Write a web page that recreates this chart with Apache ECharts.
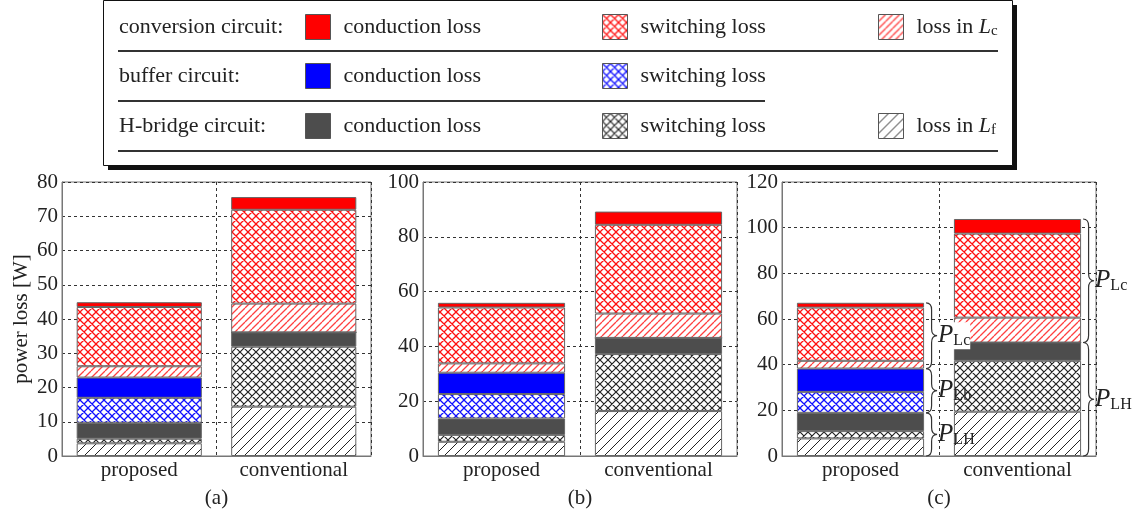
<!DOCTYPE html>
<html>
<head>
<meta charset="utf-8">
<script src="https://cdn.jsdelivr.net/npm/echarts@6/dist/echarts.min.js"></script>
<style>
  html, body { margin: 0; padding: 0; background: #fff; }
  #chart { width: 1135px; height: 516px; }
</style>
</head>
<body>
<div id="chart"></div>
<script>
const categories = ['proposed', 'conventional'];
const panelNames = ['(a)', '(b)', '(c)'];
const yMax = [80, 100, 120];
const yStep = [10, 20, 20];

// one pair per panel (a), (b), (c): [proposed, conventional]
// listed from the bottom of the stack upwards
const lossInLf = [[3.7, 14.4], [5.2, 16.4], [7.7, 19.4]];
const hbridgeSwitching = [[1.35, 17.5], [2.5, 20.8], [3.2, 22.3]];
const hbridgeConduction = [[4.65, 4.2], [6.0, 5.9], [8.0, 8.0]];
const bufferSwitching = [[7.3, 0], [8.9, 0], [9.2, 0]];
const bufferConduction = [[5.9, 0], [7.8, 0], [10.2, 0]];
const lossInLc = [[3.3, 8.4], [3.4, 8.9], [3.4, 10.9]];
const convSwitching = [[17.3, 27.4], [20.4, 32.4], [23.3, 36.8]];
const convConduction = [[1.4, 3.7], [1.7, 4.8], [2.1, 6.4]];

const FONT = '"Liberation Serif", "Times New Roman", serif';

// hatch tiles drawn on small canvases, used as pattern fills
function tile(size, color, lineW, mode) {
  const c = document.createElement('canvas');
  c.width = size; c.height = size;
  const g = c.getContext('2d');
  g.fillStyle = '#fff';
  g.fillRect(0, 0, size, size);
  g.strokeStyle = color;
  g.lineWidth = lineW;
  g.beginPath();
  for (let k = -1; k <= 1; k++) {
    const o = k * size;
    // "/" lines
    g.moveTo(o, size); g.lineTo(o + size, 0);
    if (mode === 'cross') { g.moveTo(o, 0); g.lineTo(o + size, size); }
  }
  g.stroke();
  return { image: c, repeat: 'repeat' };
}

const fills = {
  lossLf: tile(10, '#222', 1, 'slash'),
  hbSw: tile(8, '#222', 1.2, 'cross'),
  hbCond: '#4d4d4d',
  bufSw: tile(8, '#1010ff', 1.3, 'cross'),
  bufCond: '#0000ff',
  lossLc: tile(7, '#ff4040', 1.3, 'slash'),
  convSw: tile(8, '#ff1010', 1.3, 'cross'),
  convCond: '#ff0000'
};

const layers = [
  ['lossLf', lossInLf],
  ['hbSw', hbridgeSwitching],
  ['hbCond', hbridgeConduction],
  ['bufSw', bufferSwitching],
  ['bufCond', bufferConduction],
  ['lossLc', lossInLc],
  ['convSw', convSwitching],
  ['convCond', convConduction]
];

const legendText = {
  convCond: 'conduction loss', convSw: 'switching loss', lossLc: 'loss in {i|L}{s|c}',
  bufCond: 'conduction loss', bufSw: 'switching loss',
  hbCond: 'conduction loss', hbSw: 'switching loss', lossLf: 'loss in {i|L}{s|f}'
};

const gridPos = [
  { left: 62, top: 182, width: 309, height: 274 },
  { left: 423, top: 182, width: 314, height: 274 },
  { left: 782, top: 182, width: 314, height: 274 }
];

const series = [];
panelNames.forEach((p, i) => {
  layers.forEach(([name, arr]) => {
    series.push({
      name: name,
      type: 'bar',
      stack: 'panel' + i,
      xAxisIndex: i,
      yAxisIndex: i,
      barWidth: '81%',
      data: arr[i],
      itemStyle: { color: fills[name], borderColor: '#666', borderWidth: 1 },
      emphasis: { disabled: true }
    });
  });
});

// braces in panel (c): [category, low, high, label]
function sumTo(list, i, c) { return list.reduce((s, a) => s + a[i][c], 0); }
const hbPart = [lossInLf, hbridgeSwitching, hbridgeConduction];
const bufPart = [bufferSwitching, bufferConduction];
const convPart = [lossInLc, convSwitching, convConduction];
const braceRows = [0, 1].flatMap(c => {
  const h = sumTo(hbPart, 2, c);
  const b = h + sumTo(bufPart, 2, c);
  const t = b + sumTo(convPart, 2, c);
  const rows = [[c, 0, h, 'LH']];
  if (b > h) rows.push([c, h, b, 'Lb']);
  rows.push([c, b, t, 'Lc']);
  return rows;
});

function renderBrace(params, api) {
  const cat = api.value(0);
  const lo = api.coord([cat, api.value(1)]);
  const hi = api.coord([cat, api.value(2)]);
  const band = api.size([1, 0])[0];
  const x0 = lo[0] + band * 0.405 + 2;
  const top = hi[1], bot = lo[1];
  const w = 11, xm = x0 + w / 2, xt = x0 + w;
  const mid = (top + bot) / 2;
  const r = Math.min(7, (bot - top) / 4);
  const d = `M${x0} ${top}Q${xm} ${top} ${xm} ${top + r}L${xm} ${mid - r}Q${xm} ${mid} ${xt} ${mid}` +
            `Q${xm} ${mid} ${xm} ${mid + r}L${xm} ${bot - r}Q${xm} ${bot} ${x0} ${bot}`;
  const lbl = braceRows[params.dataIndex][3];
  return {
    type: 'group',
    children: [
      { type: 'path', shape: { pathData: d, x: x0, y: top, width: w, height: bot - top, layout: 'cover' },
        style: { fill: null, stroke: '#333', lineWidth: 1.2 } },
      { type: 'text', x: xt + 1, y: mid,
        style: {
          text: '{p|P}{s|' + lbl + '}', verticalAlign: 'middle', align: 'left',
          backgroundColor: lbl === 'Lc' && cat === 0 ? '#fff' : null,
          rich: {
            p: { fontFamily: FONT, fontStyle: 'italic', fontSize: 25, fill: '#222' },
            s: { fontFamily: FONT, fontSize: 16, fill: '#222', padding: [11, 0, 0, 0] }
          }
        } }
    ]
  };
}

series.push({
  type: 'custom',
  xAxisIndex: 2,
  yAxisIndex: 2,
  clip: false,
  z: 5,
  silent: true,
  encode: { x: 0, y: [1, 2] },
  data: braceRows,
  renderItem: renderBrace
});

const dashed = { show: true, lineStyle: { color: '#333', type: [3, 3], width: 1 } };

const legendBase = {
  padding: 0,
  itemWidth: 25,
  itemHeight: 25,
  icon: 'rect',
  selectedMode: false,
  itemStyle: { borderColor: '#555', borderWidth: 1 },
  formatter: n => legendText[n],
  textStyle: {
    fontFamily: FONT, fontSize: 22, color: '#222', padding: [0, 0, 0, 8],
    rich: {
      i: { fontFamily: FONT, fontSize: 22, fontStyle: 'italic', color: '#222' },
      s: { fontFamily: FONT, fontSize: 15, color: '#222', padding: [9, 0, 0, 0] }
    }
  }
};
const legendSpots = [
  ['convCond', 305, 14], ['convSw', 602, 14], ['lossLc', 878, 14],
  ['bufCond', 305, 63], ['bufSw', 602, 63],
  ['hbCond', 305, 113], ['hbSw', 602, 113], ['lossLf', 878, 113]
];

const rowText = ['conversion circuit:', 'buffer circuit:', 'H-bridge circuit:'];

const option = {
  animation: false,
  backgroundColor: '#fff',
  legend: legendSpots.map(([n, x, y]) => Object.assign({}, legendBase, { data: [n], left: x, top: y })),
  graphic: [
    { type: 'rect', shape: { x: 108, y: 5, width: 909, height: 165 }, style: { fill: '#111' } },
    { type: 'rect', shape: { x: 103.5, y: 0.5, width: 909, height: 165 }, style: { fill: '#fff', stroke: '#111', lineWidth: 1 } },
    ...rowText.map((t, k) => ({
      type: 'text', x: 119, y: [27, 76, 126][k],
      style: { text: t, fontFamily: FONT, fontSize: 22, fill: '#222', verticalAlign: 'middle' }
    })),
    { type: 'line', shape: { x1: 118, y1: 51, x2: 998, y2: 51 }, style: { stroke: '#333', lineWidth: 2 } },
    { type: 'line', shape: { x1: 118, y1: 101, x2: 765, y2: 101 }, style: { stroke: '#333', lineWidth: 2 } },
    { type: 'line', shape: { x1: 118, y1: 151, x2: 998, y2: 151 }, style: { stroke: '#333', lineWidth: 2 } }
  ],
  grid: gridPos.map(g => Object.assign({ show: true, borderColor: '#777', borderWidth: 1, backgroundColor: 'transparent' }, g)),
  xAxis: panelNames.map((p, i) => ({
    type: 'category',
    gridIndex: i,
    data: categories,
    name: p,
    nameLocation: 'middle',
    nameGap: 32,
    nameTextStyle: { fontFamily: FONT, fontSize: 21, color: '#222' },
    axisLine: { lineStyle: { color: '#777' } },
    axisTick: { show: false },
    axisLabel: { fontFamily: FONT, fontSize: 21, color: '#222', margin: 4 },
    splitLine: dashed
  })),
  yAxis: panelNames.map((p, i) => ({
    type: 'value',
    gridIndex: i,
    min: 0,
    max: yMax[i],
    interval: yStep[i],
    name: i === 0 ? 'power loss [W]' : '',
    nameLocation: 'middle',
    nameGap: 30,
    nameTextStyle: { fontFamily: FONT, fontSize: 21, color: '#222' },
    axisLine: { show: true, lineStyle: { color: '#777' } },
    axisTick: { show: false },
    axisLabel: { fontFamily: FONT, fontSize: 21, color: '#222', margin: 4 },
    splitLine: dashed
  })),
  series: series
};

const chart = echarts.init(document.getElementById('chart'), null, { renderer: 'canvas' });
chart.setOption(option);
</script>
</body>
</html>
